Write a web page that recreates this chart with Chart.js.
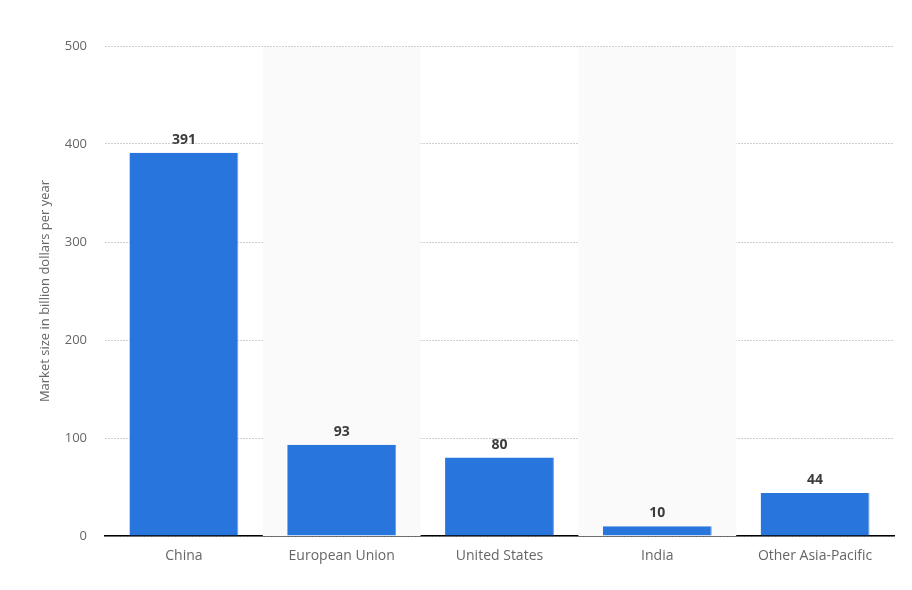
<!DOCTYPE html>
<html>
<head>
<meta charset="utf-8">
<script src="https://cdn.jsdelivr.net/npm/chart.js@4"></script>
<style>
  html, body { margin: 0; padding: 0; background: #fff; }
  #wrap { width: 912px; height: 590px; }
</style>
</head>
<body>
<div id="wrap"><canvas id="myChart"></canvas></div>
<script>
const regions = ['China', 'European Union', 'United States', 'India', 'Other Asia-Pacific'];
const marketSize = [391, 93, 80, 10, 44];
const yTicks = [0, 100, 200, 300, 400, 500];

// grey bands behind every second category
const bands = {
  id: 'bands',
  beforeDatasetsDraw(chart) {
    const { ctx, chartArea, scales } = chart;
    const x = scales.x;
    const w = (chartArea.right - chartArea.left) / regions.length;
    ctx.save();
    ctx.fillStyle = '#fafafa';
    regions.forEach((r, i) => {
      if (i % 2 === 1) {
        const cx = x.getPixelForValue(i);
        ctx.fillRect(cx - w / 2, chartArea.top + 1, w, chartArea.bottom - chartArea.top - 1);
      }
    });
    ctx.restore();
  }
};

// value labels above bars
const valueLabels = {
  id: 'valueLabels',
  afterDatasetsDraw(chart) {
    const { ctx } = chart;
    const meta = chart.getDatasetMeta(0);
    ctx.save();
    ctx.font = 'bold 14px "Open Sans"';
    ctx.fillStyle = '#3c3c3c';
    ctx.textAlign = 'center';
    ctx.textBaseline = 'bottom';
    meta.data.forEach((bar, i) => {
      ctx.fillText(String(marketSize[i]), bar.x, bar.y - 6);
    });
    ctx.restore();
  }
};

new Chart(document.getElementById('myChart'), {
  type: 'bar',
  data: {
    labels: regions,
    datasets: [{
      data: marketSize,
      backgroundColor: '#2875dd',
      borderColor: '#5f9be8',
      borderWidth: { top: 0, left: 0, right: 1, bottom: 0 },
      categoryPercentage: 1,
      barPercentage: 0.69
    }]
  },
  options: {
    responsive: true,
    maintainAspectRatio: false,
    animation: false,
    layout: { padding: { top: 46, right: 18, left: 37, bottom: 0 } },
    plugins: { legend: { display: false }, tooltip: { enabled: false } },
    scales: {
      x: {
        grid: { display: false, drawTicks: false },
        border: { display: true, color: '#000', width: 1.5 },
        ticks: { color: '#666', font: { family: 'Open Sans', size: 14 }, padding: 12, maxRotation: 0 },
        afterFit(scale) { scale.height = 54; }
      },
      y: {
        min: 0,
        max: 500,
        afterBuildTicks(scale) { scale.ticks = yTicks.map(v => ({ value: v })); },
        grid: { color: '#cfcfcf', lineWidth: 1, drawTicks: false },
        border: { display: false, dash: [2, 1] },
        ticks: { color: '#666', font: { family: 'Open Sans', size: 13 }, padding: 18 },
        title: {
          display: true,
          text: 'Market size in billion dollars per year',
          color: '#666',
          font: { family: 'Open Sans', size: 13 },
          padding: { top: 0, bottom: 0 }
        },
        afterFit(scale) { scale.width = 68; }
      }
    }
  },
  plugins: [bands, valueLabels]
});
</script>
</body>
</html>
